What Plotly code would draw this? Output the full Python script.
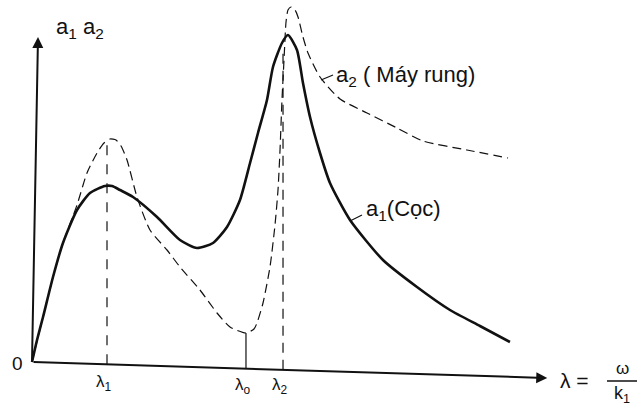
import plotly.graph_objects as go

# ---- data (λ in units of λ1, amplitude in arbitrary units) ----
lam_a1 = [0, 0.067, 0.147, 0.28, 0.413, 0.6, 0.773, 0.973, 1.067, 1.173, 1.347, 1.667, 1.973,
          2.2, 2.413, 2.6, 2.773, 2.907, 3.013, 3.133, 3.213, 3.333, 3.413, 3.533, 3.613, 3.707,
          3.84, 3.973, 4.24, 4.68, 5.133, 5.573, 5.973, 6.373]
a1 = [0, 0.22, 0.45, 0.85, 1.19, 1.52, 1.69, 1.76, 1.76, 1.72, 1.65, 1.45, 1.22,
      1.14, 1.19, 1.35, 1.62, 1.99, 2.29, 2.62, 2.95, 3.19, 3.27, 3.12, 2.79, 2.45,
      2.09, 1.79, 1.42, 1.02, 0.75, 0.52, 0.36, 0.20]

lam_a2 = [0, 0.147, 0.28, 0.413, 0.6, 0.733, 0.867, 0.96, 1.04, 1.12, 1.187, 1.267, 1.4,
          1.573, 1.8, 1.973, 2.24, 2.467, 2.64, 2.853, 2.96, 3.0, 3.08, 3.173, 3.24, 3.28,
          3.307, 3.333, 3.36, 3.387, 3.413, 3.453, 3.507, 3.547, 3.613, 3.68, 3.84, 4.107,
          4.467, 4.867, 5.213, 5.8, 6.347]
a2 = [0, 0.45, 0.85, 1.19, 1.57, 1.89, 2.09, 2.19, 2.23, 2.22, 2.16, 2.02, 1.65,
      1.32, 1.12, 0.95, 0.72, 0.49, 0.35, 0.29, 0.33, 0.39, 0.59, 0.95, 1.37, 1.72,
      2.12, 2.62, 3.02, 3.40, 3.52, 3.55, 3.52, 3.45, 3.25, 3.09, 2.85, 2.63,
      2.49, 2.34, 2.21, 2.12, 2.04]

lam_marks = [1.0, 2.853, 3.347]          # λ1, λ0, λ2
mark_tops = [2.22, 0.29, 3.10]            # height reached by each guide line
mark_labels = ["λ<sub>1</sub>", "λ<sub>o</sub>", "λ<sub>2</sub>"]
axis_end = 6.87
axis_drop = 0.16                           # slight tilt of the scanned axis
y_axis_top = 3.25

INK = "#111111"
FONT = "Liberation Sans, Arial, sans-serif"

def base(x):
    return -axis_drop / axis_end * x

# pixel -> data helper for label placement
def px(x, y):
    return (x - 32) / 75.0, (362 - y) / 100.0

fig = go.Figure()

fig.add_trace(go.Scatter(x=lam_a2, y=a2, mode="lines",
                         line=dict(color=INK, width=1.2, dash="9px,5px", shape="spline", smoothing=0.6),
                         hoverinfo="skip", showlegend=False))
fig.add_trace(go.Scatter(x=lam_a1, y=a1, mode="lines",
                         line=dict(color=INK, width=2.6, shape="spline", smoothing=0.6),
                         hoverinfo="skip", showlegend=False))

styles = ["10px,9px", "solid", "10px,7px"]
for lx, top, st in zip(lam_marks, mark_tops, styles):
    fig.add_trace(go.Scatter(x=[lx, lx], y=[base(lx), top], mode="lines",
                             line=dict(color=INK, width=1.2, dash=st),
                             hoverinfo="skip", showlegend=False))

ann = []
# axes arrows
ann.append(dict(x=axis_end, y=base(axis_end), ax=0, ay=0, xref="x", yref="y", axref="x", ayref="y",
                text="", showarrow=True, arrowhead=2, arrowsize=1.1, arrowwidth=2, arrowcolor=INK))
ann.append(dict(x=0.08, y=y_axis_top, ax=0, ay=0, xref="x", yref="y", axref="x", ayref="y",
                text="", showarrow=True, arrowhead=2, arrowsize=1.1, arrowwidth=2, arrowcolor=INK))

def label(text, x, y, size=18, xanchor="center"):
    dx, dy = px(x, y)
    ann.append(dict(x=dx, y=dy, xref="x", yref="y", text=text, showarrow=False,
                    xanchor=xanchor, yanchor="middle", font=dict(family=FONT, size=size, color=INK)))

label("0", 17, 363, 19)
for lx, lab in zip(lam_marks, mark_labels):
    pxx = lx * 75 + 32
    label(lab, pxx - 3, 383 + (3 if lab.endswith("o</sub>") or lab.endswith("2</sub>") else 0), 17)
label("a<sub>1</sub> a<sub>2</sub>", 54, 28, 22, "left")
label("a<sub>2</sub> ( Máy rung)", 334, 76, 22, "left")
label("a<sub>1</sub>(Cọc)", 364, 210, 22, "left")
label("λ =", 558, 380, 21, "left")
label("ω", 622, 368, 17)
label("k<sub>1</sub>", 622, 394, 18)

shapes = []
def seg(x0, y0, x1, y1, w=1.2):
    a, b = px(x0, y0)
    c, d = px(x1, y1)
    shapes.append(dict(type="line", x0=a, y0=b, x1=c, y1=d, xref="x", yref="y",
                       line=dict(color=INK, width=w)))
seg(607, 381, 637, 381, 1.5)   # fraction bar
seg(321, 80, 333, 75)          # leader a2
seg(350, 221, 362, 215)        # leader a1

x0, y0 = px(0, 405)
x1, y1 = px(638, 0)
fig.update_layout(width=638, height=405, autosize=False,
                  margin=dict(l=0, r=0, t=0, b=0),
                  paper_bgcolor="white", plot_bgcolor="white",
                  xaxis=dict(range=[x0, x1], visible=False, fixedrange=True),
                  yaxis=dict(range=[y0, y1], visible=False, fixedrange=True),
                  annotations=ann, shapes=shapes)

fig.write_html("out.html", config={"staticPlot": True},
               post_script="document.body.style.margin='0';document.body.style.overflow='hidden';")
